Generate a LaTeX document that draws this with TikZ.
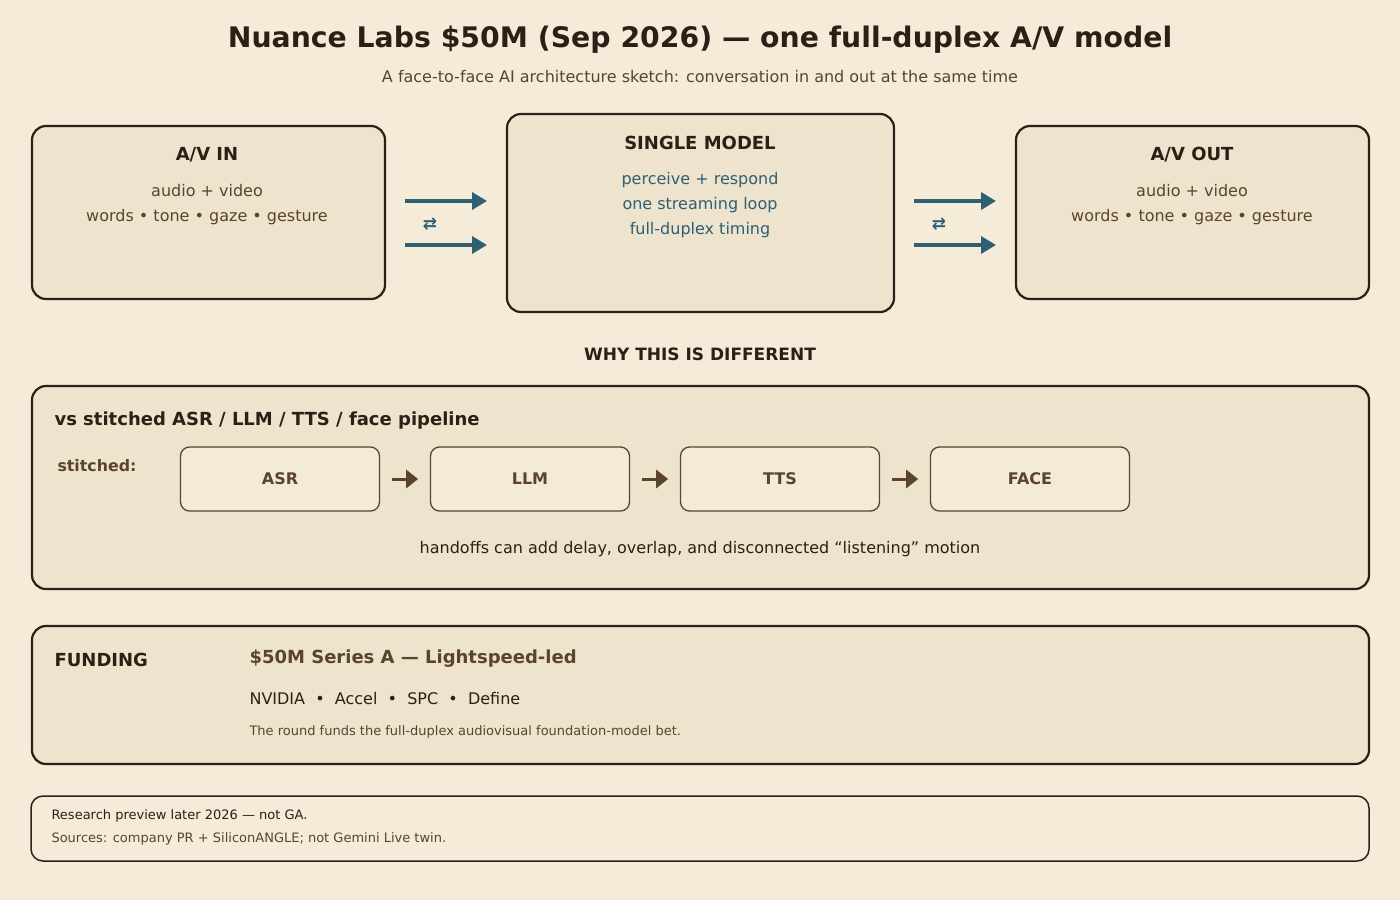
\documentclass[tikz,border=0pt]{standalone}
\usepackage{fontspec}
\setmainfont{DejaVu Sans}
\usetikzlibrary{arrows.meta}
\definecolor{bg}{HTML}{F4EBD9}
\definecolor{boxf}{HTML}{EEE3CD}
\definecolor{ink}{HTML}{2A2016}
\definecolor{blu}{HTML}{2F5F73}
\definecolor{brn}{HTML}{5A4430}
\definecolor{sbf}{HTML}{F4EAD8}
\begin{document}
\begin{tikzpicture}[x=1pt,y=-1pt,
 panel/.style={draw=ink,line width=2.2pt,fill=boxf,rounded corners=14pt},
 small/.style={draw=brn,line width=1.3pt,fill=sbf,rounded corners=9pt,minimum width=199pt,minimum height=64pt,font=\fontsize{16}{18}\selectfont\bfseries,text=brn},
 hd/.style={font=\fontsize{18}{20}\selectfont\bfseries,text=ink},
 bd/.style={font=\fontsize{16}{25}\selectfont,text=brn,align=center},
 flow/.style={draw=blu,line width=3.5pt,-{Triangle[length=15pt,width=17pt]}},
 sarr/.style={draw=brn,line width=3pt,-{Triangle[length=12pt,width=18pt]}}]
\fill[bg] (0,0) rectangle (1400,900);
\node[font=\fontsize{28.3}{32}\selectfont\bfseries,text=ink] (title) at (700,40) {Nuance Labs \$50M (Sep 2026) — one full-duplex A/V model};
\node[font=\fontsize{16}{18}\selectfont,text=brn] (sub) at (700,77) {A face-to-face AI architecture sketch: conversation in and out at the same time};
% top panels
\draw[panel] (32,126) rectangle (385,299);
\draw[panel] (507,114) rectangle (894,312);
\draw[panel] (1016,126) rectangle (1369,299);
\node[hd] (inh) at (207,155) {A/V IN};
\node[bd] (inb) at (207,205) {audio + video\\words • tone • gaze • gesture};
\node[hd] (smh) at (700,143) {SINGLE MODEL};
\node[bd,text=blu] (smb) at (700,205) {perceive + respond\\one streaming loop\\full-duplex timing};
\node[hd] (outh) at (1192,155) {A/V OUT};
\node[bd] (outb) at (1192,205) {audio + video\\words • tone • gaze • gesture};
\coordinate (a1s) at (405,201); \coordinate (a1e) at (487,201);
\coordinate (a2s) at (405,245); \coordinate (a2e) at (487,245);
\coordinate (b1s) at (914,201); \coordinate (b1e) at (996,201);
\coordinate (b2s) at (914,245); \coordinate (b2e) at (996,245);
\draw[flow] (a1s) -- (a1e); \draw[flow] (a2s) -- (a2e);
\draw[flow] (b1s) -- (b1e); \draw[flow] (b2s) -- (b2e);
\node[font=\fontsize{17}{18}\selectfont\bfseries,text=blu] (x1) at (430,224) {⇄};
\node[font=\fontsize{17}{18}\selectfont\bfseries,text=blu] (x2) at (939,224) {⇄};
\node[hd,font=\fontsize{17}{20}\selectfont\bfseries] (why) at (700,354) {WHY THIS IS DIFFERENT};
% stitched panel
\draw[panel] (32,386) rectangle (1369,589);
\node[hd,anchor=west] (vs) at (51,421) {vs stitched ASR / LLM / TTS / face pipeline};
\node[anchor=west,font=\fontsize{15.8}{18}\selectfont\bfseries,text=brn] (st) at (54,466) {stitched:};
\node[small] (asr) at (280,479) {ASR};
\node[small] (llm) at (530,479) {LLM};
\node[small] (tts) at (780,479) {TTS};
\node[small] (face) at (1030,479) {FACE};
\draw[sarr] (asr.east) ++(12,0) -- ++(26,0);
\draw[sarr] (llm.east) ++(12,0) -- ++(26,0);
\draw[sarr] (tts.east) ++(12,0) -- ++(26,0);
\node[font=\fontsize{16}{18}\selectfont,text=ink] (hand) at (700,549) {handoffs can add delay, overlap, and disconnected “listening” motion};
% funding
\draw[panel] (32,626) rectangle (1369,764);
\node[hd,anchor=west] (fund) at (51,660) {FUNDING};
\node[anchor=west,font=\fontsize{18}{20}\selectfont\bfseries,text=brn] (ser) at (246,659) {\$50M Series A — Lightspeed-led};
\node[anchor=west,font=\fontsize{16}{18}\selectfont,text=ink] (inv) at (246,699) {NVIDIA\ \ •\ \ Accel\ \ •\ \ SPC\ \ •\ \ Define};
\node[anchor=west,font=\fontsize{13}{15}\selectfont,text=brn] (rnd) at (246,732) {The round funds the full-duplex audiovisual foundation-model bet.};
% footer
\draw[draw=ink,line width=1.5pt,fill=bg,rounded corners=12pt] (31,796) rectangle (1369,861);
\node[anchor=west,font=\fontsize{13}{15}\selectfont,text=ink] (f1) at (48,816) {Research preview later 2026 — not GA.};
\node[anchor=west,font=\fontsize{13}{15}\selectfont,text=brn] (f2) at (48,839) {Sources: company PR + SiliconANGLE; not Gemini Live twin.};
\end{tikzpicture}
\end{document}
